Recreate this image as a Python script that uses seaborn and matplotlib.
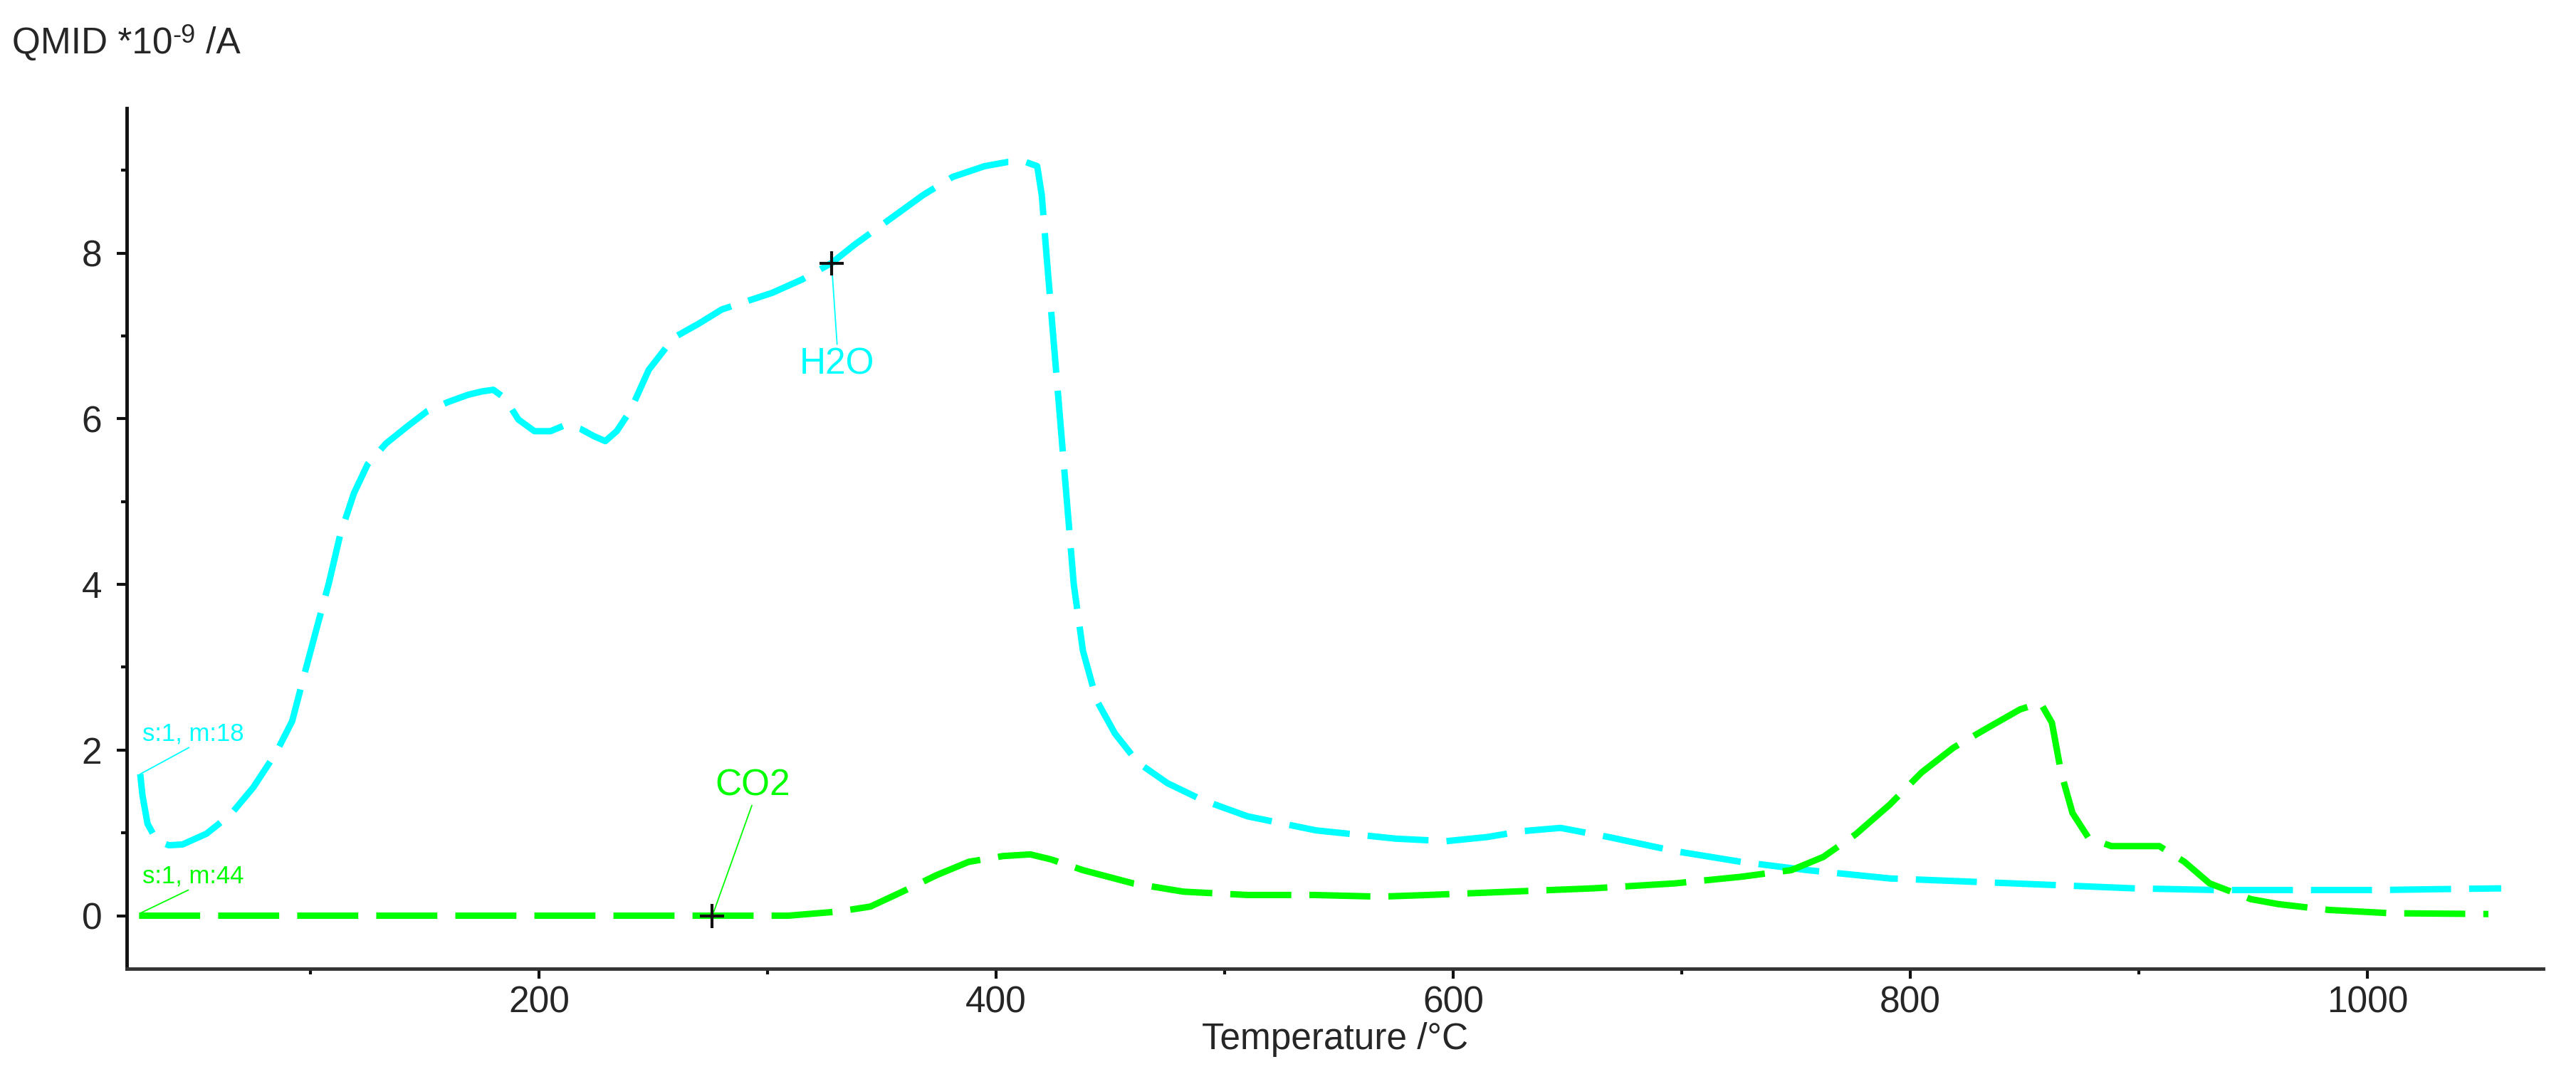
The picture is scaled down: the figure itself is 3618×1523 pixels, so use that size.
import matplotlib
matplotlib.use("Agg")
import matplotlib.pyplot as plt
import seaborn as sns
from matplotlib.ticker import MultipleLocator
from matplotlib.transforms import offset_copy

sns.set_style("ticks")
plt.rcParams['font.family'] = ['Liberation Sans', 'DejaVu Sans']

# ---------------- data ----------------
h2o_temp = [25.5, 26.5, 28.7, 32.7, 38, 44, 54.5, 65, 75, 85, 92, 97, 103, 108, 113, 119,
            125, 133, 142, 151, 160, 169, 175, 180, 185, 191, 198, 205, 212, 218, 224, 229,
            234, 240, 248, 259, 270, 280, 291, 302, 315, 328, 338, 348, 358, 368, 381, 395,
            405, 413, 418, 420, 422, 425, 428, 431, 434, 438, 444, 452, 462, 475, 490, 510,
            540, 575, 597, 615, 630, 647, 668, 697, 726, 755, 791, 827, 863, 898, 934, 970,
            1006, 1030, 1058.6]
h2o_val = [1.71, 1.45, 1.11, 0.91, 0.85, 0.86, 0.99, 1.22, 1.55, 1.97, 2.35, 2.88, 3.5, 4.01, 4.6, 5.1,
           5.45, 5.7, 5.9, 6.09, 6.2, 6.29, 6.33, 6.35, 6.25, 5.99, 5.85, 5.85, 5.93, 5.88, 5.79, 5.73,
           5.85, 6.1, 6.59, 6.98, 7.15, 7.32, 7.42, 7.52, 7.68, 7.88, 8.1, 8.3, 8.5, 8.7, 8.92, 9.05,
           9.1, 9.1, 9.05, 8.7, 8.0, 7.0, 6.0, 5.0, 4.0, 3.2, 2.6, 2.2, 1.85, 1.6, 1.4, 1.2,
           1.03, 0.93, 0.9, 0.95, 1.02, 1.06, 0.95, 0.78, 0.65, 0.55, 0.45, 0.41, 0.37, 0.33, 0.31, 0.31,
           0.31, 0.32, 0.33]

co2_temp = [25, 100, 200, 309, 331, 345, 359, 374, 388, 403, 415, 424, 438, 460, 482, 510,
            539, 568, 589, 625, 661, 697, 726, 748, 762, 776, 791, 805, 819, 834, 848, 857,
            862, 866, 871, 878, 888, 898, 909, 920, 931, 949, 961, 983, 1010, 1053]
co2_val = [0, 0, 0, 0, 0.05, 0.11, 0.29, 0.49, 0.65, 0.72, 0.74, 0.68, 0.55, 0.39, 0.29, 0.25,
           0.25, 0.23, 0.25, 0.29, 0.33, 0.39, 0.47, 0.55, 0.71, 0.98, 1.34, 1.73, 2.03, 2.27, 2.49, 2.57,
           2.33, 1.73, 1.24, 0.94, 0.84, 0.84, 0.84, 0.65, 0.39, 0.2, 0.14, 0.07, 0.03, 0.02]

marker_temp = [328, 275.7]
marker_val = [7.88, 0.0]

x_ticks = [200, 400, 600, 800, 1000]
y_ticks = [0, 2, 4, 6, 8]

CYAN = '#00FFFF'
GREEN = '#00FF00'

# ---------------- figure ----------------
fig = plt.figure(figsize=(36.18, 15.23), dpi=100)
ax = fig.add_axes([0.04920, 0.10637, 0.93809, 0.79383])

sns.lineplot(x=h2o_temp, y=h2o_val, ax=ax, color=CYAN, lw=6.5, sort=False, estimator=None)
sns.lineplot(x=co2_temp, y=co2_val, ax=ax, color=GREEN, lw=6.5, sort=False, estimator=None)
for ln in ax.lines:
    ln.set_dashes([9.5, 2.8])
    ln.set_dash_capstyle('butt')
    ln.set_dash_joinstyle('round')

sns.scatterplot(x=marker_temp, y=marker_val, ax=ax, marker='+', s=625, color='#111111',
                linewidth=3, zorder=5)

ax.set_xlim(19.6, 1077)
ax.set_ylim(-0.64, 9.75)

ax.set_xticks(x_ticks)
ax.set_yticks(y_ticks)
ax.xaxis.set_minor_locator(MultipleLocator(100))
ax.yaxis.set_minor_locator(MultipleLocator(1))
ax.tick_params(axis='both', which='major', labelsize=37, length=10, width=3, color='#111111')
ax.tick_params(axis='both', which='minor', length=6, width=3, color='#111111')
ax.tick_params(axis='x', which='major', pad=7)
ax.tick_params(axis='y', which='major', pad=15)

for side in ['top', 'right']:
    ax.spines[side].set_visible(False)
ax.spines['left'].set_linewidth(3.5)
ax.spines['left'].set_color('#111111')
ax.spines['bottom'].set_linewidth(3.5)
ax.spines['bottom'].set_color('#333333')

ax.set_xlabel('Temperature /°C', fontsize=37, labelpad=2)
ax.set_ylabel('')

# y-axis title with a plain hyphen superscript
base_y = 1 - 75 / 1523
t1 = fig.text(17 / 3618, base_y, 'QMID *10', fontsize=37, ha='left', va='baseline')
fig.canvas.draw()
r = fig.canvas.get_renderer()
bb1 = t1.get_window_extent(renderer=r)
t2 = fig.text(bb1.x1 / fig.bbox.width, base_y + 15 / 1523, '-9', fontsize=26,
              ha='left', va='baseline')
bb2 = t2.get_window_extent(renderer=r)
fig.text(bb2.x1 / fig.bbox.width, base_y, ' /A', fontsize=37, ha='left', va='baseline')

# ---------------- annotations ----------------
ax.annotate('s:1, m:18', xy=(25.5, 1.71), xytext=(26.5, 2.2), fontsize=25, color=CYAN,
            ha='left', va='center',
            arrowprops=dict(arrowstyle='-', color=CYAN, lw=1.3, shrinkA=0, shrinkB=0,
                            relpos=(0.5, 0)))
ax.annotate('s:1, m:44', xy=(25.5, 0.03), xytext=(26.5, 0.48), fontsize=25, color=GREEN,
            ha='left', va='center',
            arrowprops=dict(arrowstyle='-', color=GREEN, lw=1.3, shrinkA=0, shrinkB=0,
                            relpos=(0.5, 0)))
ax.annotate('H2O', xy=(328, 7.88), xytext=(330.5, 6.66), fontsize=37, color=CYAN,
            ha='center', va='center',
            arrowprops=dict(arrowstyle='-', color=CYAN, lw=1.3, shrinkA=0, shrinkB=0,
                            relpos=(0.5, 1)))
ax.annotate('CO2', xy=(276.5, 0.05), xytext=(293.5, 1.57), fontsize=37, color=GREEN,
            ha='center', va='center',
            arrowprops=dict(arrowstyle='-', color=GREEN, lw=1.3, shrinkA=0, shrinkB=0,
                            relpos=(0.5, 0)))

fig.savefig('out.png', dpi=100, facecolor='white')
